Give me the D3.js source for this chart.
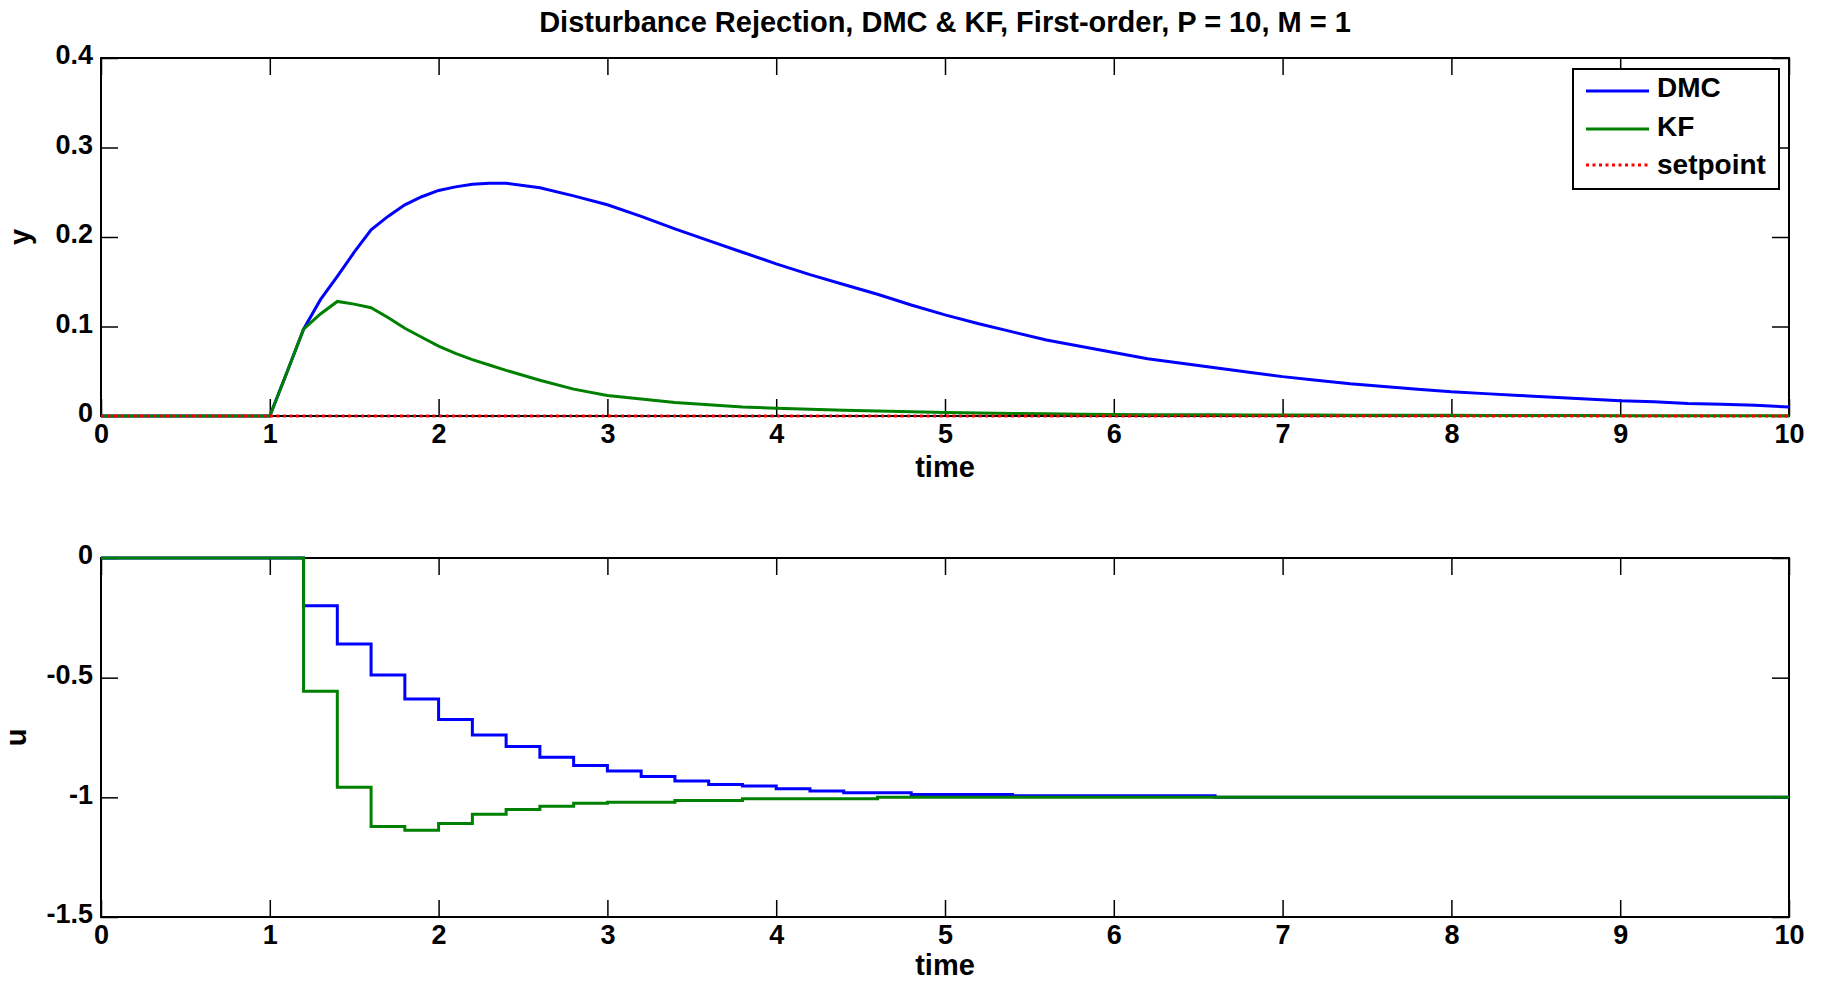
<!DOCTYPE html>
<html lang="en">
<head>
<meta charset="UTF-8">
<title>Disturbance Rejection, DMC & KF</title>
<script src="https://cdn.jsdelivr.net/npm/d3@7"></script>
<style>
    body{
        margin: 0;
        background: #fff;
    }
    text{
        font-family: "Liberation Sans", Arial, Helvetica, sans-serif;
        font-weight: bold;
        fill: #000;
    }
</style>
</head>
<body>
<svg id="fig" width="1822" height="982"></svg>
<script>
// output y
let yTime = [0, 1, 1.1, 1.2, 1.3, 1.4, 1.5, 1.6, 1.7, 1.8, 1.9, 2.0, 2.1, 2.2, 2.3, 2.4,
    2.6, 2.8, 3.0, 3.2, 3.4, 3.6, 3.8, 4.0, 4.2, 4.4, 4.6, 4.8, 5.0, 5.2, 5.4, 5.6, 5.8, 6.0,
    6.2, 6.4, 6.6, 6.8, 7.0, 7.2, 7.4, 7.6, 7.8, 8.0, 8.2, 8.4, 8.6, 8.8, 9.0, 9.2, 9.4, 9.6, 9.8, 10.0]
let yDMC = [0, 0, 0.048, 0.097, 0.130, 0.156, 0.183, 0.208, 0.223, 0.236, 0.245, 0.252, 0.256, 0.259, 0.260, 0.260,
    0.255, 0.246, 0.236, 0.223, 0.209, 0.196, 0.183, 0.170, 0.158, 0.147, 0.136, 0.124, 0.113, 0.103, 0.094, 0.085, 0.078, 0.071,
    0.064, 0.059, 0.054, 0.049, 0.044, 0.040, 0.036, 0.033, 0.030, 0.027, 0.025, 0.023, 0.021, 0.019, 0.017, 0.016, 0.014, 0.013, 0.012, 0.010]
let yKF = [0, 0, 0.048, 0.097, 0.114, 0.128, 0.125, 0.121, 0.110, 0.098, 0.088, 0.078, 0.070, 0.063, 0.057, 0.051,
    0.040, 0.030, 0.023, 0.019, 0.015, 0.0125, 0.010, 0.0086, 0.0075, 0.0065, 0.0057, 0.0048, 0.004, 0.0034, 0.0028, 0.0024, 0.002, 0.0017,
    0.0015, 0.0014, 0.0013, 0.0012, 0.0011, 0.001, 0.0009, 0.0008, 0.0008, 0.0007, 0.0006, 0.0006, 0.0005, 0.0005, 0.0004, 0.0004, 0.0004, 0.0003, 0.0003, 0.0003]
let setpoint = [0, 0]
let setpointTime = [0, 10]

// input u, piecewise constant every 0.2
let uTime = [0, 0.2, 0.4, 0.6, 0.8, 1.0, 1.2, 1.4, 1.6, 1.8, 2.0, 2.2, 2.4, 2.6, 2.8, 3.0, 3.2, 3.4, 3.6, 3.8,
    4.0, 4.2, 4.4, 4.6, 4.8, 5.0, 5.2, 5.4, 5.6, 5.8, 6.0, 6.2, 6.4, 6.6, 6.8, 7.0, 7.2, 7.4, 7.6, 7.8,
    8.0, 8.2, 8.4, 8.6, 8.8, 9.0, 9.2, 9.4, 9.6, 9.8, 10.0]
let uDMC = [0, 0, 0, 0, 0, 0, -0.199, -0.359, -0.489, -0.589, -0.675, -0.740, -0.788, -0.832, -0.867, -0.890, -0.913, -0.932, -0.946, -0.953,
    -0.964, -0.974, -0.981, -0.981, -0.988, -0.988, -0.988, -0.993, -0.993, -0.993, -0.993, -0.993, -0.993, -1, -1, -1, -1, -1, -1, -1,
    -1, -1, -1, -1, -1, -1, -1, -1, -1, -1, -1]
let uKF = [0, 0, 0, 0, 0, 0, -0.557, -0.958, -1.122, -1.138, -1.109, -1.071, -1.051, -1.037, -1.025, -1.021, -1.021, -1.013, -1.013, -1.006,
    -1.006, -1.006, -1.006, -1, -1, -1, -1, -1, -1, -1, -1, -1, -1, -1, -1, -1, -1, -1, -1, -1,
    -1, -1, -1, -1, -1, -1, -1, -1, -1, -1, -1]

let xTicks = [0, 1, 2, 3, 4, 5, 6, 7, 8, 9, 10]
let yTicksTop = [0, 0.1, 0.2, 0.3, 0.4]
let yTickLabelsTop = ["0", "0.1", "0.2", "0.3", "0.4"]
let yTicksBot = [-1.5, -1, -0.5, 0]
let yTickLabelsBot = ["-1.5", "-1", "-0.5", "0"]
let seriesNames = ["DMC", "KF", "setpoint"]
let seriesColors = ["#0000ff", "#008000", "#ff0000"]
let titleText = "Disturbance Rejection, DMC & KF, First-order, P = 10, M = 1"

let svg = d3.select("#fig")
let left = 101, right = 1789
let tickLen = 17
let dots = "3,3.5"

let x = d3.scaleLinear().domain([0, 10]).range([left, right])
let yTop = d3.scaleLinear().domain([0, 0.4]).range([416, 58])
let yBot = d3.scaleLinear().domain([-1.5, 0]).range([917, 558])

function styleAxis(g){
    g.select(".domain").remove()
    g.selectAll(".tick line").attr("stroke", "#000").attr("stroke-width", 1.5)
    g.selectAll(".tick text")
        .attr("font-family", null)
        .style("font-size", "27px")
        .attr("fill", "#000")
}

// box, ticks on all four sides, labels
function drawFrame(y, yTicks, yLabels, yName, yNameX, xNameY){
    let [bot, top] = y.range()

    svg.append("g").attr("transform", `translate(0,${bot})`)
        .call(d3.axisBottom(x).tickValues(xTicks).tickSize(-tickLen).tickPadding(8).tickFormat(d3.format("d")))
        .call(styleAxis)
    svg.append("g").attr("transform", `translate(0,${top})`)
        .call(d3.axisTop(x).tickValues(xTicks).tickSize(-tickLen).tickFormat(""))
        .call(styleAxis)
    svg.append("g").attr("transform", `translate(${left},0)`)
        .call(d3.axisLeft(y).tickValues(yTicks).tickSize(-tickLen).tickPadding(8).tickFormat((d, i) => yLabels[i]))
        .call(styleAxis)
        .selectAll(".tick text").attr("dy", "0.22em")
    svg.append("g").attr("transform", `translate(${right},0)`)
        .call(d3.axisRight(y).tickValues(yTicks).tickSize(-tickLen).tickFormat(""))
        .call(styleAxis)

    svg.append("rect")
        .attr("x", left).attr("y", top)
        .attr("width", right - left).attr("height", bot - top)
        .attr("fill", "none").attr("stroke", "#000").attr("stroke-width", 2)

    svg.append("text")
        .attr("x", (left + right) / 2).attr("y", xNameY)
        .attr("text-anchor", "middle")
        .style("font-size", "29px")
        .text("time")

    svg.append("text")
        .attr("transform", `translate(${yNameX},${(top + bot) / 2}) rotate(-90)`)
        .attr("text-anchor", "middle")
        .style("font-size", "29px")
        .text(yName)
}

function drawLine(xs, ys, y, color, curve, dash){
    let pts = xs.map((t, i) => [t, ys[i]])
    svg.append("path")
        .datum(pts)
        .attr("fill", "none")
        .attr("stroke", color)
        .attr("stroke-width", 3)
        .attr("stroke-dasharray", dash)
        .attr("d", d3.line().x(d => x(d[0])).y(d => y(d[1])).curve(curve))
}

// top panel
drawFrame(yTop, yTicksTop, yTickLabelsTop, "y", 30, 477)
drawLine(yTime, yDMC, yTop, seriesColors[0], d3.curveLinear)
drawLine(yTime, yKF, yTop, seriesColors[1], d3.curveLinear)
drawLine(setpointTime, setpoint, yTop, seriesColors[2], d3.curveLinear, dots)

// bottom panel
drawFrame(yBot, yTicksBot, yTickLabelsBot, "u", 26, 975)
drawLine(uTime, uDMC, yBot, seriesColors[0], d3.curveStepAfter)
drawLine(uTime, uKF, yBot, seriesColors[1], d3.curveStepAfter)

svg.append("text")
    .attr("x", (left + right) / 2).attr("y", 32)
    .attr("text-anchor", "middle")
    .style("font-size", "29px")
    .text(titleText)

// legend
let legend = svg.append("g").attr("transform", "translate(1573,69)")
legend.append("rect")
    .attr("width", 206).attr("height", 120)
    .attr("fill", "#fff").attr("stroke", "#000").attr("stroke-width", 2)
let rowY = [22, 60, 96]
let textDy = [6, 7, 9]
seriesNames.forEach((name, i) => {
    legend.append("line")
        .attr("x1", 13).attr("x2", 76)
        .attr("y1", rowY[i]).attr("y2", rowY[i])
        .attr("stroke", seriesColors[i])
        .attr("stroke-width", 3)
        .attr("stroke-dasharray", i == 2 ? dots : null)
    legend.append("text")
        .attr("x", 84).attr("y", rowY[i] + textDy[i])
        .style("font-size", "28px")
        .text(name)
})
</script>
</body>
</html>
